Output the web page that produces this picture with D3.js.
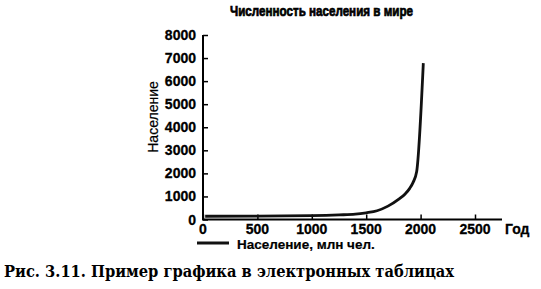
<!DOCTYPE html>
<html>
<head>
<meta charset="utf-8">
<script src="https://cdn.jsdelivr.net/npm/d3@7"></script>
<style>
  body { margin: 0; background: #fff; }
  svg { display: block; }
</style>
</head>
<body>
<script>
// population data (year, millions)
const years = [20, 500, 1000, 1250, 1400, 1500, 1600, 1700, 1800, 1860, 1900, 1930, 1964, 2025];
const population = [140, 150, 170, 200, 230, 290, 380, 580, 880, 1120, 1350, 1600, 2080, 6780];
const xTicks = [0, 500, 1000, 1500, 2000, 2500];
const yTicks = [0, 1000, 2000, 3000, 4000, 5000, 6000, 7000, 8000];

const width = 541, height = 289;
const svg = d3.select('body').append('svg')
    .attr('width', width)
    .attr('height', height);

const x = d3.scaleLinear().domain([0, 2500]).range([203, 475]);
const y = d3.scaleLinear().domain([0, 8000]).range([219.5, 35]);

const sans = "'Liberation Sans', Arial, sans-serif";

// title
svg.append('text')
    .attr('x', 230).attr('y', 16)
    .attr('textLength', 183).attr('lengthAdjust', 'spacingAndGlyphs')
    .attr('stroke', '#000').attr('stroke-width', 0.7)
    .style('font', `bold 14px ${sans}`)
    .text('Численность населения в мире');

// y axis
const yAxis = svg.append('g')
    .attr('transform', `translate(${x(0)},0)`)
    .call(d3.axisRight(y).tickValues(yTicks).tickSize(5).tickFormat(''));
yAxis.select('.domain').attr('d', `M0,${y(8000)}V${y(0)}`).attr('stroke-width', 2);
yAxis.selectAll('.tick line').attr('stroke-width', 1.5);

svg.append('g').selectAll('text')
    .data(yTicks)
    .join('text')
    .attr('x', 196).attr('y', d => y(d) + 5)
    .attr('text-anchor', 'end')
    .attr('stroke', '#000').attr('stroke-width', 0.3)
    .style('font', `bold 14px ${sans}`)
    .text(d => d);

// x axis
const xAxis = svg.append('g')
    .attr('transform', `translate(0,${y(0)})`)
    .call(d3.axisTop(x).tickValues(xTicks).tickSize(5).tickFormat(''));
xAxis.select('.domain').attr('d', `M${x(0) - 1},0H502`).attr('stroke-width', 2);
xAxis.selectAll('.tick line').attr('stroke-width', 1.5);

svg.append('g').selectAll('text')
    .data(xTicks)
    .join('text')
    .attr('x', d => x(d)).attr('y', 234)
    .attr('text-anchor', 'middle')
    .attr('stroke', '#000').attr('stroke-width', 0.3)
    .style('font', `bold 14px ${sans}`)
    .text(d => d);

svg.append('text')
    .attr('x', 505).attr('y', 234)
    .attr('stroke', '#000').attr('stroke-width', 0.3)
    .style('font', `bold 14px ${sans}`)
    .text('Год');

// y label
svg.append('text')
    .attr('transform', 'translate(158,117) rotate(-90)')
    .attr('text-anchor', 'middle')
    .attr('stroke', '#000').attr('stroke-width', 0.2)
    .style('font', `14px ${sans}`)
    .text('Население');

// line
const line = d3.line()
    .x((d, i) => x(years[i]))
    .y(d => y(d))
    .curve(d3.curveMonotoneX);

svg.append('path')
    .datum(population)
    .attr('d', line)
    .attr('fill', 'none')
    .attr('stroke', '#111')
    .attr('stroke-width', 2.8);

// legend
svg.append('line')
    .attr('x1', 197).attr('x2', 229)
    .attr('y1', 243).attr('y2', 243)
    .attr('stroke', '#111').attr('stroke-width', 3);
svg.append('text')
    .attr('x', 237).attr('y', 249)
    .attr('stroke', '#000').attr('stroke-width', 0.2)
    .style('font', `bold 13.5px ${sans}`)
    .text('Население, млн чел.');

// caption
svg.append('text')
    .attr('x', 4).attr('y', 277)
    .attr('textLength', 450).attr('lengthAdjust', 'spacingAndGlyphs')
    .style('font', "bold 16px 'DejaVu Serif', 'Liberation Serif', serif")
    .text('Рис. 3.11. Пример графика в электронных таблицах');
</script>
</body>
</html>
